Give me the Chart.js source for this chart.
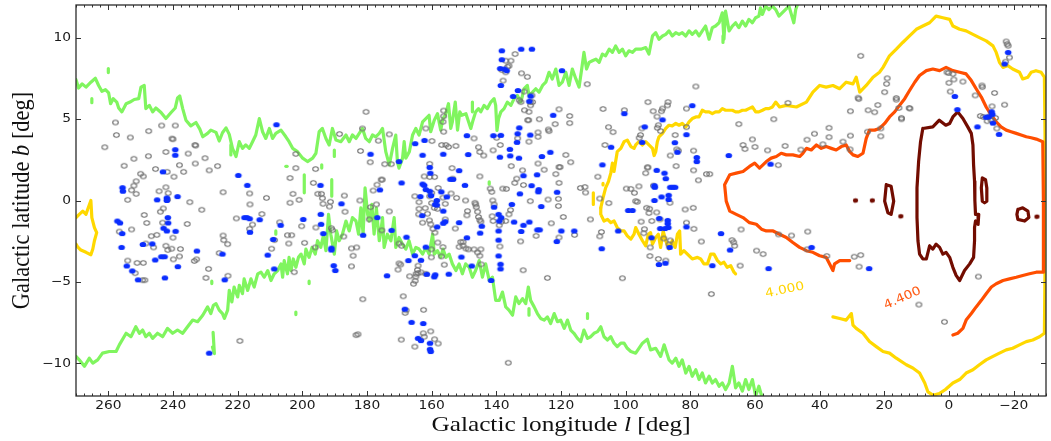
<!DOCTYPE html>
<html>
<head>
<meta charset="utf-8">
<title>Galactic plane map</title>
<script src="https://cdn.jsdelivr.net/npm/chart.js@4.4.1/dist/chart.umd.min.js"></script>
<style>
  html, body { margin: 0; padding: 0; background: #fff; }
  canvas { display: block; }
</style>
</head>
<body>
<canvas id="mapa" width="1051" height="441"></canvas>
<script>
// =======================
// AXES
// =======================
const lTicks = [260, 240, 220, 200, 180, 160, 140, 120, 100, 80, 60, 40, 20, 0, -20];
const bTicks = [-10, -5, 0, 5, 10];
const lRange = [-30, 270];
const bRange = [-12, 12];
const lMinorStep = 2.5;

// =======================
// OBJECTS  [l, b]
// =======================
const grayObjs = [
  [257.8,4.79],[257.5,4.02],[253.2,3.87],[247.5,4.26],[243.5,4.6],[239.3,4.6],[240.3,3.8],[240.0,3.76],[261.1,3.27],[242.2,2.98],
  [235.3,2.88],[233.2,3.41],[233.0,3.37],[230.1,2.6],[255.1,2.13],[252.1,2.56],[247.6,2.72],[245.4,1.93],[241.8,1.76],[239.7,1.46],
  [238.0,2.17],[236.7,1.76],[233.1,2.27],[228.8,1.85],[250.0,1.64],[249.2,1.48],[251.4,1.18],[252.1,0.91],[252.8,0.63],[251.4,0.41],
  [254.0,0.04],[242.2,0.81],[244.3,0.57],[241.5,0.45],[241.7,0.06],[234.8,-0.1],[231.1,-0.57],[243.0,-0.49],[243.9,-0.69],[248.9,-0.89],
  [248.1,-1.38],[243.2,-1.36],[235.6,-1.44],[256.6,-1.91],[252.8,-1.78],[246.7,-2.19],[245.0,-2.11],[248.4,-2.64],[246.0,-2.88],[240.0,-2.28],
  [242.2,-2.78],[240.4,-2.96],[241.6,-3.04],[237.7,-2.98],[238.0,-3.43],[239.9,-3.61],[254.0,-3.69],[251.1,-3.83],[249.2,-3.83],[233.4,-3.71],
  [232.7,-3.61],[251.7,-4.46],[249.4,-4.89],[248.7,-4.89],[229.0,-4.2],[229.8,-4.75],
  [226.2,2.11],[224.5,0.51],[216.3,0.43],[216.2,-0.24],[211.1,0.16],[212.5,-0.83],[220.4,-1.1],[215.4,-1.48],[216.3,-1.74],[224.5,-2.15],
  [224.3,-2.43],[223.1,-2.68],[225.7,-3.23],[223.0,-4.62],[219.3,-8.62],[202.0,2.86],[202.0,1.99],[203.8,1.38],[202.9,0.41],[201.0,0.04],
  [203.8,-0.14],[207.0,-1.34],[204.6,-2.13],[203.3,-2.13],[204.2,-2.64],[208.6,-2.43],[209.5,-2.96],[200.2,-1.58],[199.3,-2.6],[202.5,-4.4],
  [195.9,1.93],[196.6,1.08],[195.2,0.41],[194.1,0.41],[193.8,0.14],[193.6,-0.2],[191.3,-0.08],[191.6,-0.37],[187.0,0.3],[186.8,-0.69],
  [195.8,-1.66],[191.0,-1.7],[190.7,-1.82],[196.0,-2.88],[187.2,-2.21],[184.8,-2.94],[184.3,-3.39],[184.8,-4.04],[188.5,4.08],[183.4,-8.26],
  [180.3,5.44],[181.4,4.42],[182.0,3.04],[179.0,2.35],[176.5,3.67],[173.1,4.06],[174.5,2.23],[172.5,2.23],[175.6,1.28],[175.3,1.28],
  [176.9,0.97],[178.1,0.61],[182.2,0.0],[177.1,-0.24],[178.9,-0.41],[173.1,-0.67],[179.3,-1.16],[175.4,-1.83],[183.2,-2.88],[169.6,-3.93],
  [170.4,-4.24],[168.8,-5.88],[181.3,-6.06],[182.8,-8.21],[168.2,-6.9],[167.9,-6.74],[162.5,-6.71],[169.4,-8.54],[165.2,-8.97],[162.6,-8.15],
  [162.3,-8.36],[160.3,-8.03],[159.1,-8.52],[158.0,-8.78],[166.8,-4.65],[164.9,-4.67],[164.2,-4.46],[165.1,-4.93],[165.6,-5.11],[164.4,-4.26],
  [156.3,5.52],[156.3,5.17],[156.5,4.83],[161.8,4.42],[159.9,3.65],[156.9,3.41],[155.6,3.41],[154.8,3.29],[152.5,3.35],[156.3,4.22],
  [160.6,2.25],[162.3,1.48],[160.6,1.44],[159.1,1.44],[158.0,0.77],[160.6,0.26],[160.0,0.47],[165.2,0.26],[163.9,-0.1],[163.9,-0.51],
  [164.0,-0.85],[162.0,-0.47],[161.3,-0.81],[160.0,-0.16],[159.2,-0.45],[158.2,-0.51],[160.7,-1.22],[160.3,-1.46],[162.8,-1.36],[159.6,-1.74],
  [159.0,-1.97],[156.5,0.18],[155.8,-0.2],[153.7,1.99],[153.5,1.34],[154.0,0.43],[152.3,0.16],[155.8,-1.16],[152.7,-1.72],[149.5,0.0],
  [146.6,-0.14],[146.4,-0.24],[146.2,-0.41],[149.1,-0.91],[148.9,-0.65],[145.8,-0.69],[145.5,-1.01],[145.1,-1.2],[144.8,-1.3],[145.1,1.48],
  [145.1,2.98],[143.9,2.76],[146.9,3.81],[145.5,3.27],[141.0,3.08],[141.9,0.73],[141.4,0.53],[141.1,0.0],[140.7,-0.24],[141.3,-0.97],
  [141.0,-1.26],[151.0,-2.54],[150.3,-2.54],[149.4,-2.95],[148.6,-3.0],[146.9,-3.0],[145.8,-3.19],[145.1,-3.39],[144.8,-3.0],[150.3,-2.78],
  [151.5,-2.84],[144.7,-3.92],[170.1,-2.64],[169.3,-2.78],[170.1,-3.86],[160.1,-3.0],[157.0,-3.43],[156.1,-3.94],[163.3,-4.41],[161.8,-4.5],
  [164.2,-4.0],[164.8,-4.5],[156.5,-2.86],[160.1,-3.49],[158.1,-2.58],
  [137.1,8.58],[136.1,8.27],[135.5,8.58],[134.2,8.99],[138.3,8.01],[137.1,7.87],[136.5,8.21],[137.9,7.36],[132.2,7.81],[130.4,7.59],
  [131.4,6.69],[129.0,6.45],[129.5,6.04],[129.4,5.84],[128.8,6.04],[131.3,5.54],[129.9,5.44],[132.4,6.04],[132.9,6.15],[130.3,4.93],
  [130.0,4.93],[126.7,4.99],[121.8,4.69],[120.6,5.6],[117.3,5.19],[117.3,4.75],[123.9,4.36],[123.7,4.26],[127.1,4.18],[127.1,3.91],
  [129.9,3.61],[133.4,3.81],[138.8,3.41],[139.9,3.85],[118.5,2.8],[117.0,2.35],[127.1,2.27],[125.2,1.89],[120.6,2.05],[120.3,2.05],
  [121.6,1.62],[135.4,2.11],[131.9,1.85],[133.7,1.34],[134.3,1.08],[131.6,0.95],[138.0,0.73],[136.9,0.71],[120.6,1.08],[129.5,-0.04],
  [124.0,0.06],[120.8,0.1],[120.8,-0.34],[135.6,-0.59],[136.1,-0.85],[137.1,-1.26],[139.1,-1.52],[138.4,-1.3],[123.0,-1.4],[119.3,-1.01],
  [127.7,-2.17],[120.6,-2.27],[115.8,-2.11],[132.5,-2.51],[138.9,-2.82],[131.7,-4.28],[124.2,-4.75],[136.3,-9.96],[112.6,0.83],[114.0,0.77],
  [112.4,0.49],[111.9,7.14],[107.0,5.62],[105.3,4.5],[103.9,4.2],[106.4,3.41],[108.6,1.46],[108.0,0.12],[105.2,-0.16],[110.9,-1.16],
  [108.0,-2.2],[107.5,-1.93],[101.0,-4.77],[100.4,5.54],[99.8,0.73],[98.4,0.71],[97.3,0.47],[96.9,-0.04],
  [78.3,7.0],[93.1,6.04],[86.9,6.04],[87.1,5.84],[88.6,5.64],[88.9,5.48],[91.5,5.48],[90.3,5.15],[89.9,4.62],[90.2,4.46],
  [81.2,5.64],[81.2,4.5],[95.0,4.42],[95.4,4.02],[95.8,3.85],[89.2,4.26],[84.7,4.02],[84.2,3.14],[83.7,3.06],[79.0,3.06],
  [86.2,2.76],[93.3,2.03],[93.8,1.68],[93.1,2.03],[84.4,2.11],[79.0,1.85],[77.5,1.24],[75.0,1.62],[74.0,1.62],[95.9,0.87],
  [91.4,0.91],[86.3,-0.14],[96.4,-0.08],[93.5,-0.45],[92.6,-0.51],[90.4,-0.73],[92.8,-0.77],[91.9,-1.26],[95.2,-1.3],[89.4,-1.16],
  [81.2,-1.36],[78.9,-1.74],[81.6,-0.55],[79.1,-0.45],[94.2,-1.76],[94.4,-2.01],[88.2,-2.33],[86.2,-2.45],[86.6,-2.7],[76.6,-2.52],
  [92.4,-2.88],[89.9,-3.59],[92.5,-3.41],[87.6,-3.69],[73.5,-5.74],[65.0,4.69],[63.7,3.41],[63.1,3.16],[60.0,3.29],[60.8,3.75],
  [56.1,3.08],[54.2,4.99],[64.3,-1.78],[67.1,-2.43],[66.6,-2.56],[66.3,-2.78],[59.5,-3.08],[57.5,-3.29],[64.6,-4.0],
  [27.3,8.88],[49.8,5.99],[50.7,3.35],[52.8,2.17],[45.8,3.12],[43.9,3.73],[41.6,4.1],[37.1,4.46],[37.1,3.89],[39.0,3.45],
  [32.8,3.61],[30.5,3.98],[30.6,3.14],[30.5,5.48],[28.1,6.31],[27.9,6.23],[25.0,5.54],[23.0,5.42],[22.0,5.86],[21.1,4.42],
  [21.1,3.94],[25.2,4.22],[19.9,6.65],[19.3,7.16],[19.1,7.5],[16.3,6.29],[16.3,6.19],[15.5,5.68],[14.7,5.07],[14.7,4.99],
  [12.3,5.68],[52.7,-2.08],[48.7,-2.15],[43.7,-1.91],[43.9,-3.0],[37.8,-3.41],[29.3,-3.45],[27.3,-3.35],[27.8,-4.06],
  [12.1,5.64],[0.6,7.87],[0.1,7.83],[-1.2,7.77],[-1.5,7.43],[0.0,7.22],[-4.3,7.3],[-0.4,6.69],[-10.2,7.06],[-10.3,6.96],
  [-8.1,6.45],[-14.1,6.6],[-17.2,5.88],[-13.3,5.78],[-10.6,5.13],[-12.3,5.15],[-13.0,4.95],[-14.4,5.07],[-14.8,4.42],[-9.7,5.19],
  [-11.8,4.87],[-17.7,9.76],[-18.0,9.6],[-18.3,9.5],[-18.7,8.78],[-17.5,8.52],[-9.1,-4.67],[9.3,-6.39],[1.4,-7.45]
];

const blueObjs = [
  [239.3,3.12],[239.3,2.78],[243.1,1.76],[255.6,0.79],[255.5,0.57],[244.9,0.04],[241.9,0.16],[241.9,0.0],[238.6,0.24],[257.2,-1.26],
  [256.4,-1.38],[255.7,-2.03],[241.6,-1.05],[241.5,-1.38],[242.9,-1.7],[241.9,-1.87],[239.2,-1.89],[255.9,-2.88],[249.3,-2.7],[246.4,-2.66],
  [243.6,-3.45],[242.6,-3.45],[245.5,-3.65],[238.5,-4.06],[232.6,-3.1],[254.3,-4.02],[252.6,-4.32],[250.8,-4.87],[242.5,-4.75],[228.8,-9.37],
  [208.0,4.65],[219.8,1.54],[217.0,0.93],[217.9,-1.05],[217.1,-1.05],[216.3,-1.12],[213.2,-1.18],[216.2,-1.95],[206.7,-1.52],[209.0,-2.39],
  [210.7,-3.35],[208.7,-4.2],[199.7,-1.16],[194.4,0.93],[194.3,-0.85],[194.2,-1.46],[193.5,-2.03],[191.0,-2.92],[191.0,-3.04],[187.9,-0.2],
  [190.3,-4.0],[189.8,-4.3],[224.7,-3.29],[224.0,-4.87],
  [178.9,2.84],[176.0,0.65],[170.1,2.39],[169.3,1.08],[165.1,3.49],[162.2,3.69],[162.8,2.78],[160.6,2.03],[160.4,1.68],[162.8,1.01],
  [162.3,0.93],[161.8,0.67],[160.6,0.57],[160.2,0.3],[163.5,0.24],[158.4,0.0],[158.9,-0.24],[157.0,0.53],[155.3,0.22],[156.4,-0.65],
  [156.4,2.84],[154.2,1.3],[153.4,1.3],[151.5,1.83],[149.7,0.93],[148.7,2.82],[149.1,3.98],[140.9,3.98],[162.9,-0.93],[155.8,-1.3],
  [156.4,-1.4],[158.3,-1.62],[151.5,-1.36],[144.5,-1.58],[145.0,-2.0],[149.1,-2.29],[140.7,-0.41],[172.4,-1.83],[167.8,-2.25],[176.8,-1.05],
  [181.2,-2.13],[161.8,-2.86],[163.3,-3.67],[167.2,-3.69],[165.2,-3.39],[173.8,-4.62],[161.5,-4.53],[159.2,-4.69],[158.9,-4.56],[154.7,-4.52],
  [150.8,-3.47],[147.6,-4.02],[141.6,-4.91],[168.3,-6.67],[166.2,-7.48],[162.6,-7.55],[164.2,-8.46],[163.3,-8.6],[160.5,-8.76],[160.5,-9.13],
  [160.3,-9.27],[158.4,-0.28],
  [138.3,9.19],[132.3,9.29],[129.0,9.29],[138.3,8.64],[138.8,8.1],[137.5,8.07],[136.8,7.97],[138.6,7.06],[133.3,6.75],[134.8,6.39],
  [129.4,6.41],[129.8,6.09],[119.7,7.97],[100.4,5.33],[122.4,5.23],[132.9,4.46],[133.4,4.1],[129.5,4.02],[138.6,4.0],[133.6,3.57],
  [135.8,3.14],[135.7,2.74],[133.0,2.6],[138.9,2.66],[125.9,2.7],[123.3,2.96],[131.6,1.52],[127.4,1.58],[129.1,0.91],[126.9,0.67],
  [127.0,0.53],[121.2,0.51],[132.7,0.41],[126.1,-0.37],[135.2,-0.24],[139.3,-0.85],[138.5,-1.05],[139.1,-1.26],[134.5,-1.32],[131.6,-1.52],
  [129.8,-1.32],[132.3,-1.9],[127.3,-1.8],[126.6,-1.8],[119.9,-1.87],[115.9,-1.87],[121.3,-2.52],[139.3,-1.87],[139.3,-2.43],[139.3,-3.4],
  [138.7,-3.91],[138.7,-4.2],[107.2,2.19],[104.5,3.27],[107.4,-2.96],[102.3,-1.87],[99.2,-0.61],[97.9,-0.61],
  [79.4,5.82],[88.6,4.95],[94.1,4.52],[81.2,4.04],[84.8,3.55],[84.0,2.96],[78.0,2.64],[78.0,2.39],[94.9,3.57],[90.4,1.85],
  [88.0,1.68],[87.6,1.34],[91.1,0.91],[91.0,0.81],[86.2,0.81],[85.4,0.81],[84.7,0.81],[88.9,0.22],[86.7,0.32],[86.7,0.06],
  [91.1,0.0],[89.6,-1.1],[87.0,-1.22],[87.0,-1.42],[86.8,-1.66],[89.3,-1.72],[87.8,-1.72],[81.2,-1.62],[92.0,-2.29],[86.4,-2.88],
  [89.7,-3.93],[87.7,-3.85],[68.1,2.76],[70.5,-2.03],[67.7,-3.04],[73.2,-4.0],[55.8,-4.18],[55.2,2.23],
  [42.5,-2.88],[24.7,-4.18],
  [-1.8,6.39],[-2.6,5.58],[-8.8,4.52],[-12.3,5.13],[-13.2,5.45],[-13.4,5.29],[-11.5,5.11],[-13.6,4.75],[-15.5,4.06],[-18.3,9.09],
  [-17.2,8.38]
];

// =======================
// CONTOURS  [l, b]
// =======================
const greenUpper = [
  [270,7.42],[269.2,6.9],[268.1,7.16],[266.9,6.96],[265.4,7.26],[264,7.5],[263,7.06],[262,6.7],[260.9,6.8],[259.9,6.6],
  [259.3,5.94],[258.5,6.25],[257.4,6.04],[256.8,5.68],[255.8,5.44],[254.5,5.94],[253.3,6.04],[252,6.2],[250.6,6.25],[249.9,6.96],
  [248.9,7.06],[248.4,5.64],[247.3,5.84],[246.3,5.44],[245.3,5.68],[243.7,5.4],[242.2,5.03],[240.6,5.4],[239.3,5.68],[238.6,6.29],
  [237.9,6.41],[237,5.64],[236,4.93],[234.5,4.58],[232.9,4.79],[231.7,4.38],[230.8,3.91],[229.3,4.12],[228.3,4.32],[226.7,4.18],
  [225.7,3.65],[224.7,4.16],[223.6,4.46],[222.6,4.06],[221.6,3.2],[220.5,2.7],[219.5,3.61],[218.5,3.2],[217.5,3.41],[216.4,3.2],
  [215.4,3.61],[214.4,4.02],[213.3,5.03],[212.3,4.22],[211.3,3.81],[210.2,4.42],[209.2,3.81],[208.2,4.12],[206.6,4.32],[205.1,3.91],
  [204.1,3.61],[203,3.2],[201.5,3.0],[199.9,2.6],[198.4,2.39],[196.8,2.6],[195.8,2.9],[194.8,4.22],[193.8,4.42],[192.7,3.81],
  [191.7,3.41],[190.7,4.42],[189.6,3.71],[188.1,3.61],[186.5,4.02],[185.5,3.61],[184.5,4.02],[183.4,3.81],
  [182.4,4.12],[181.4,4.42],[180.4,3.81],[179.3,3.61],[178.3,4.02],[177.3,3.91],[176.2,4.12],[175.2,4.42],[174.2,3.0],[173.1,2.19],
  [172.1,3.2],[171.1,4.02],[170.6,2.39],[170.1,1.99],[169,2.6],[168.5,3.61],[168,2.6],[166.9,3.0],[165.9,4.02],[164.9,4.42],
  [163.9,4.02],[162.8,4.83],[161.8,5.03],[160.8,5.23],[160.3,4.22],[159.2,4.93],[158.2,5.33],[157.2,4.32],[156.5,5.03],[155.8,5.23],
  [154.8,5.94],[154.1,4.42],[153.6,4.83],[152.7,6.04],[152,4.32],[151.3,5.44],[150.7,5.23],[149.4,5.33],[147.9,4.42],[147.2,4.93],
  [146.4,5.44],[145.5,5.64],[144.8,5.44],[143.8,5.84],[142.8,5.64],[141.7,6.04],[140.7,6.25],[140.2,5.84],
  [139.8,4.3],[139.3,5.03],[138.6,5.44],[137.6,5.64],[136.6,6.04],[135.5,5.84],[134.5,6.25],[133.5,6.45],[132.4,6.04],[131.4,6.86],
  [130.4,7.06],[129.9,6.45],[128.8,6.65],[127.8,6.86],[126.8,6.65],[125.7,7.06],[124.7,7.26],[123.7,7.87],[122.7,7.46],[121.6,8.07],
  [120.6,7.06],[119.6,7.26],[118.5,7.87],[117.5,7.06],[116.5,8.07],[115.4,7.46],[114.4,6.96],[113.6,8.07],[112.9,9.09],[112.1,8.07],
  [111.3,8.48],[110.3,8.58],[109.2,8.68],[108.2,8.48],[107.2,8.99],[106.2,8.88],[105.1,9.29],[104.1,9.09],[103.1,9.49],[102,9.09],
  [101,9.29],[100,8.88],[99,9.19],[97.9,9.09],[96.9,9.29],
  [95.3,9.29],[93.8,9.39],[92.8,8.99],[91.7,10.1],[90.7,10.3],[89.7,9.9],[88.6,10.1],[87.6,10.2],[86.6,10.41],[85.6,10.1],
  [84.5,10.3],[83.5,10.2],[82.5,10.3],[81.4,10.1],[80.4,10.41],[79.4,10.2],[78.3,10.41],[77.3,10.1],[76.3,10.41],[75.3,10.71],
  [74.2,9.9],[73.2,10.61],[72.2,10.71],[71.1,10.91],[70.1,11.52],[69.6,9.9],[69.1,11.62],[68,10.41],[67,10.71],[66,10.91],
  [65,10.61],[63.9,11.01],[62.9,10.71],[61.9,11.12],[60.8,10.91],[59.8,11.22],[58.8,11.32],[58.3,11.83],[57.7,11.42],[56.7,11.93],
  [55.7,11.72],[54.6,11.93],[53.6,11.72],[52.6,11.32],[51.6,11.52],[49.5,11.93],[48,10.91],[47.4,11.72],[46.4,12.3]
];

const greenLower = [
  [270,-9.57],[269,-9.78],[267.4,-10.18],[265.9,-9.68],[264.8,-9.98],[263.3,-9.78],[261.8,-9.37],[259.7,-9.27],[257.6,-9.27],[256.6,-8.86],
  [254.5,-8.15],[253,-8.36],[251.5,-7.75],[250.4,-8.15],[249.4,-7.95],[248.4,-8.36],[247.3,-8.15],[246.3,-8.46],[244.8,-8.15],[243.2,-8.36],
  [241.7,-7.85],[240.1,-8.15],[238.6,-7.95],[237,-8.15],[235.5,-7.75],[233.9,-7.34],[232.4,-7.44],[230.8,-7.04],[229.3,-6.53],[228.3,-6.94],
  [227.5,-6.43],[226.7,-6.33],
  [225.7,-6.73],[224.7,-6.94],[224.1,-7.24],[223.1,-6.73],[222.6,-5.52],[221.8,-6.23],[221.1,-5.31],[220,-5.92],[219.5,-5.21],[218.5,-5.72],
  [218,-4.81],[216.9,-5.52],[215.9,-4.81],[214.9,-5.31],[213.8,-4.5],[212.8,-4.4],[211.8,-4.71],[210.7,-4.3],[209.7,-4.91],[208.7,-4.5],
  [207.6,-4.3],[206.6,-3.89],[206.1,-4.71],[205.6,-3.69],[204.6,-4.5],[204.1,-3.49],[203.5,-4.3],[202.8,-3.59],[202,-4.1],[201.2,-3.49],
  [200.4,-3.29],[199.4,-3.89],[198.9,-2.98],[197.9,-3.49],[197,-2.88],[196,-3.29],[195.3,-2.47],[194.3,-2.88],[193.5,-2.17],[192.7,-3.08],
  [191.9,-0.85],[191.2,-2.07],[190.1,-3.29],[189.4,-1.87],[188.6,-2.47],[187.6,-2.07],[186.5,-1.26],[185.5,-1.87],[184.5,-1.05],[183.4,-1.26],
  [182.6,-2.07],[181.9,-0.45],[181.2,-2.07],[180.6,0.77],[179.8,-0.85],[179.3,-1.26],[178.5,-0.24],[177.8,-2.07],[177.1,-0.45],[176.2,-2.47],
  [175.7,-1.87],[175.2,-1.05],[174.7,-2.88],[173.7,-2.07],[172.6,-2.47],[171.6,-1.05],[171.1,-2.88],[170.1,-2.27],[169,-2.68],[168,-2.98],
  [167,-2.47],[165.9,-3.29],[164.9,-2.88],[163.9,-2.98],[162.8,-3.29],[161.8,-2.88],[160.8,-3.29],[159.7,-2.07],[159.2,-3.29],[158.2,-3.08],
  [157.2,-3.49],[156.5,-2.98],[155.6,-3.49],[154.6,-3.29],[153.6,-3.89],[152.5,-4.3],[151.5,-3.89],[150.5,-4.5],[149.5,-3.89],[148.4,-4.1],
  [147.4,-4.71],[146.4,-4.3],[145.3,-3.69],[144.3,-4.71],[143.3,-3.89],[142.2,-4.91],[141.2,-4.71],[140.2,-6.13],
  [139.1,-6.13],[138.1,-5.62],[137.1,-6.53],[136.1,-6.73],[135,-7.04],[134,-5.92],[133,-6.33],[131.9,-6.02],[130.9,-6.33],[130.1,-5.31],
  [129.4,-6.13],[128.3,-6.53],[127.3,-6.94],[126.3,-7.24],[125.2,-7.34],[124.2,-7.14],[123.2,-7.55],[122.1,-6.94],[121.1,-7.44],[120.1,-7.34],
  [119,-7.85],[118,-7.34],[117,-7.95],[116,-8.15],[114.9,-8.46],[113.9,-8.66],[112.9,-7.95],[111.8,-8.46],[110.8,-8.36],[109.8,-8.15],
  [108.7,-8.05],[107.7,-7.75],[106.7,-8.36],[105.6,-8.56],[104.6,-8.36],[103.6,-8.76],[102.6,-8.97],[101.5,-8.76],[100.5,-8.76],[99.5,-9.07],
  [98.4,-9.27],[96.9,-9.37],
  [94.8,-8.76],[93.3,-8.52],[92.3,-9.17],[90.7,-9.07],[89.2,-9.57],[88.1,-8.86],[86.6,-9.78],[85.6,-9.98],[84.5,-9.68],[83.5,-10.18],
  [82.5,-9.78],[81.4,-10.59],[80.4,-10.18],[79.4,-10.79],[78.3,-10.39],[77.3,-10.99],[76.3,-10.59],[75.3,-11.2],[74.2,-10.79],[73.2,-11.2],
  [72.2,-10.99],[71.1,-11.4],[70.1,-11.2],[69.1,-11.6],[68,-11.2],[67,-10.18],[66,-11.5],[65,-11.2],[63.9,-11.7],[62.9,-10.99],
  [61.9,-11.6],[60.8,-10.99],[59.8,-12.0],[58.8,-11.4],[57.5,-12.3]
];

// short broken pieces of the same level
const greenBits = [
  [[260,8.1],[260,7.85]],
  [[265.1,6.25],[265.1,6.0]],
  [[222.1,3.41],[222.1,2.8]],
  [[205.1,2.1],[204.7,2.1]],
  [[199.4,1.58],[199.4,0.47]],
  [[194.0,2.19],[194.0,1.99]],
  [[190.9,1.28],[190.9,0.26]],
  [[190.1,3.1],[190.1,2.7]],
  [[208.2,-1.87],[208.2,-2.07]],
  [[197.9,-4.95],[197.9,-5.1]],
  [[202,-6.85],[202,-7.0]],
  [[227.6,-8.1],[227.2,-9.4],[227.8,-9.0]],
  [[228.0,-4.95],[228.0,-5.1]],
  [[147.4,6.04],[147.4,5.44]],
  [[142.2,1.15],[142.2,1.0]],
  [[129.9,-6.63],[129.9,-7.04]],
  [[111.8,-6.94],[111.8,-7.24]],
  [[69.9,10.1],[69.9,9.7]]
];

const yellowLeft = [
  [270,-1.05],[269,-0.85],[267.9,-0.65],[266.9,-0.85],[266.4,-0.55],[265.4,0],[265.1,-1.05],[264.3,-1.66],[263.6,-1.97],[264.3,-2.47],
  [264.8,-2.98],[265.4,-3.33],[266.9,-3.18],[268.5,-3.04],[269.5,-2.84],[270,-2.68]
];

const yellowLower = [
  [107.7,-0.45],[107.7,-0.85],[106.7,-1.26],[105.6,-1.16],[104.6,-1.36],[103.6,-1.26],[102.6,-1.66],[101.5,-1.87],[100.5,-1.87],[99.5,-2.17],
  [98.4,-2.37],[97.4,-2.07],[96.9,-1.66],[95.9,-2.07],[94.8,-2.47],[93.8,-2.78],[93,-2.07],[92.3,-1.97],[91.7,-2.68],[90.7,-2.27],
  [89.9,-2.07],[89.2,-2.88],[88.4,-1.87],[87.6,-2.47],[86.6,-2.98],[85.6,-2.47],[84.7,-2.88],[84,-2.07],[83.3,-1.87],[83,-3.29],
  [82,-3.08],[80.9,-3.29],[79.4,-3.59],[77.8,-3.49],[76.8,-3.59],[75.8,-3.89],[74.7,-3.89],[73.7,-3.29],[72.7,-3.29],[71.6,-3.69],
  [70.6,-3.89],[69.6,-3.79],[68.6,-4.1],[67.5,-4.0],[66.5,-4.4],[66,-4.5]
];

const yellowMain = [
  [107.7,-0.45],[107,0.16],[106.2,0.77],[105.3,1.18],[104.6,1.68],[104.1,2.29],[103.6,1.78],[103.1,2.39],[102.6,3.0],[101.5,3.2],
  [100.5,3.61],[99.5,3.71],[98.4,3.31],[97.4,3.2],[96.9,3.41],[95.9,3.61],[94.8,3.41],[93.8,3.61],[92.8,3.41],[91.7,3.2],
  [91.2,2.76],[90.7,3.0],[90.2,3.61],[89.7,3.91],[88.6,4.12],[87.6,4.42],[86.6,4.62],[85.6,4.58],[84.5,4.73],[83.5,4.62],
  [82.5,4.73],[81.4,4.52],[80.4,4.83],[79.4,5.03],[78.3,5.13],[77.3,5.13],[76.3,5.54],[75.3,5.44],[74.2,5.44],[73.2,5.33],
  [72.2,5.44],[71.1,5.44],[70.1,5.64],[69.1,5.54],[68,5.54],[67,5.54],[66,5.44],[65,5.44],[63.9,5.54],[62.9,5.54],
  [61.9,5.64],[60.8,5.74],[59.8,5.44],[58.8,5.44],[57.7,5.54],[56.7,5.64],[55.7,5.64],[54.6,5.74],[53.6,6.04],[52.4,5.74],
  [50.3,5.84],[47.2,5.74],[44.1,6.04],[42.1,6.65],[40,7.06],[38,6.96],[35.9,7.06],[33.8,6.86],[31.8,7.26],[29.7,7.16],
  [28.7,7.57],[27.6,6.65],[25.6,7.06],[23.5,7.57],[21.5,7.87],[20.4,8.17],[18.4,8.88],[16.3,9.29],[14.3,9.7],[12.2,10.1],
  [10.1,10.51],[8.1,10.71],[6,10.91],[4,11.32],[1.9,11.22],[-0.2,11.12],[-1.2,10.71],[-3.3,10.51],[-5.3,10.41],[-7.4,10.2],
  [-9.4,10],[-11.5,9.8],[-13.6,9.49],[-14.6,9.09],[-15.6,8.48],[-16.7,8.17],[-18.2,8.28],[-19.7,8.07],[-21.8,7.87],[-22.8,7.46],
  [-24.4,7.57],[-25.4,7.87],[-26.9,7.97],[-28.5,7.87],[-29.5,7.57],[-29.7,4.0],[-29.7,-4.1],[-29.5,-8.15],[-28,-8.36],[-25.9,-8.56],
  [-23.9,-8.66],[-21.8,-8.86],[-19.7,-9.07],[-17.7,-9.17],[-15.6,-9.37],[-13.6,-9.57],[-11.5,-9.78],[-9.4,-10.08],[-7.4,-10.39],[-5.3,-10.59],
  [-3.3,-10.99],[-1.2,-11.2],[1.1,-11.6],[3,-11.85],[5,-11.95],[6.5,-11.75],[7.5,-11.2],[9.1,-10.59],[11.2,-10.28],[13.2,-10.08],
  [16.3,-9.68],[18.4,-9.37],[20.4,-9.27],[22.5,-8.97],[24.6,-8.66],[26.6,-8.15],[28.7,-7.85],[29.7,-7.65],[30.2,-6.94],[31.8,-7.34],
  [33.8,-7.24],[35.9,-7.14]
];

const yellowBits = [
  [[110.0,0.47],[110.0,-0.24]],
  [[107.0,1.05],[107.0,0.95]]
];

const orangeMain = [
  [30.7,-3.69],[31.8,-3.69],[33.8,-3.69],[35.4,-3.89],[35.9,-4.3],[36.4,-4.1],[38,-3.49],[40,-3.39],[42.1,-3.18],[44.1,-3.08],
  [46.2,-2.88],[48.3,-2.58],[50.3,-2.27],[52.4,-2.07],[54.4,-1.87],[56.5,-1.87],[58,-1.76],[59.6,-1.46],[61.7,-1.36],[63.7,-1.05],
  [65.8,-0.85],[67.8,-0.65],[68.9,-0.04],[69.4,0.97],[67.8,1.58],[65.8,1.68],[63.7,1.78],[61.7,2.09],[60.1,2.29],[58.6,1.99],
  [56.5,2.39],[55,2.6],[53.4,2.7],[51.9,2.9],[50.3,2.8],[48.3,2.8],[46.2,2.7],[45.2,2.9],[44.1,3.2],[42.6,3.1],
  [41,3.41],[39.5,3.2],[38,3.31],[36.4,3.2],[34.9,3.1],[33.3,3.31],[31.8,3.41],[30.7,3.0],[29.7,2.8],[28.2,2.7],
  [26.6,2.9],[25.6,3.81],[24.6,4.32],[23,4.32],[21.5,4.42],[19.9,4.73],[18.4,5.13],[16.8,5.44],[15.3,5.84],[13.7,6.25],
  [12.2,6.75],[10.6,7.26],[9.1,7.67],[7,7.97],[5,8.07],[2.9,7.97],[0.9,8.17],[-1.2,7.97],[-3.3,7.87],[-5.3,7.77],
  [-6.9,7.36],[-8.4,6.86],[-10,6.35],[-11.5,5.74],[-13.1,5.23],[-14.6,4.83],[-16.1,4.52],[-17.7,4.32],[-19.2,4.22],[-20.8,4.12],
  [-22.3,4.02],[-23.9,3.91],[-25.4,3.85],[-27,3.77],[-29,3.61],[-29.2,-0.04],[-29.2,-4.4],[-27,-4.4],[-24.9,-4.5],[-22.8,-4.6],
  [-20.8,-4.71],[-18.7,-4.81],[-16.7,-4.91],[-14.6,-5.11],[-13.1,-5.31],[-11.5,-5.72],[-10,-6.13],[-8.4,-6.53],[-6.9,-6.94],[-5.3,-7.34],
  [-4.3,-7.85],[-2.7,-8.15],[-1.2,-8.26]
];

const darkMain = [
  [8.1,4.42],[5,4.52],[3,4.93],[1,4.62],[-0.2,4.73],[-1.2,5.13],[-2.7,5.44],[-4.3,5.03],[-5.8,4.52],[-6.9,4.12],
  [-7.4,3.41],[-7.6,2.19],[-7.9,1.18],[-8.0,0.0],[-8.2,-0.85],[-9.2,-0.85],[-9.0,-1.46],[-8.2,-1.26],[-7.9,-1.66],[-7.9,-2.47],
  [-7.6,-3.49],[-6.4,-3.89],[-4.8,-4.3],[-3.3,-4.91],[-2.2,-4.6],[-1.2,-4.1],[-0.2,-3.49],[0.9,-3.18],[1.9,-3.29],[2.9,-2.88],
  [4,-2.68],[5,-2.98],[6,-2.78],[7,-3.59],[8.1,-3.59],[9.1,-3.29],[9.6,-2.47],[9.9,-1.05],[9.9,0.77],[9.4,2.39],
  [8.8,3.61],[8.1,4.42]
];
const darkLoops = [
  [[-10.3,1.38],[-11.3,1.28],[-11.7,0.77],[-11.7,-0.04],[-11,-0.14],[-10.3,-0.04],[-10,0.77],[-10.3,1.38]],
  [[19.4,0.97],[17.9,0.87],[17.1,-0.04],[17.9,-0.85],[18.9,-0.75],[19.9,-0.04],[19.4,0.97]],
  [[-21.3,-0.55],[-22.8,-0.45],[-24.4,-0.65],[-24.7,-1.05],[-23.4,-1.26],[-21.3,-1.16],[-21,-0.85],[-21.3,-0.55]]
];
const darkDots = [[28.9,0],[23.7,0],[14.9,-0.97],[-27.2,-0.99]];

// level tags written inline on the contours
const levelTags = [
  { text: '4.000', l: 50.8, b: -5.5, angle: -12, color: '#ffd400' },
  { text: '4.400', l: 14.4, b: -6.0, angle: -24, color: '#ff5a14' }
];

// =======================
// COLOURS / LOOK
// =======================
const C_GREEN = '#80f55f';
const C_YELLOW = '#ffd800';
const C_ORANGE = '#ff4e00';
const C_DARK = '#720c00';
const C_GRAY = '#6f6f6f';
const C_BLUE = '#0a2dff';
const STRETCH = 1.15;   // everything in this figure is a bit wider than tall

// =======================
// HELPERS
// =======================
const toXY = pts => pts.map(([l, b]) => ({ x: l, y: b }));

// small elliptical marker used as pointStyle
function marker(rx, ry, fill, stroke) {
  const c = document.createElement('canvas');
  c.width = Math.ceil(rx * 2 + 3);
  c.height = Math.ceil(ry * 2 + 3);
  const g = c.getContext('2d');
  g.beginPath();
  g.ellipse(c.width / 2, c.height / 2, rx, ry, 0, 0, Math.PI * 2);
  if (fill) { g.fillStyle = fill; g.fill(); }
  if (stroke) { g.strokeStyle = stroke; g.lineWidth = 1.1; g.stroke(); }
  return c;
}

function curve(pts, color, order) {
  return {
    data: toXY(pts),
    showLine: true,
    borderColor: color,
    borderWidth: 3.2,
    borderJoinStyle: 'round',
    borderCapStyle: 'round',
    pointRadius: 0,
    pointHoverRadius: 0,
    fill: false,
    tension: 0,
    clip: 0,
    order
  };
}

const datasets = [
  {
    data: toXY(blueObjs),
    pointStyle: marker(3.3, 2.6, C_BLUE, null),
    pointRadius: 3,
    order: 0
  },
  {
    data: toXY(grayObjs),
    pointStyle: marker(2.8, 2.2, null, C_GRAY),
    pointRadius: 3,
    order: 1
  },
  {
    data: toXY(darkDots),
    pointStyle: marker(2.6, 2.3, C_DARK, null),
    pointRadius: 3,
    order: 2
  },
  curve(darkMain, C_DARK, 3),
  ...darkLoops.map(p => curve(p, C_DARK, 3)),
  curve(orangeMain, C_ORANGE, 4),
  curve(yellowLeft, C_YELLOW, 5),
  curve(yellowLower, C_YELLOW, 5),
  curve(yellowMain, C_YELLOW, 5),
  ...yellowBits.map(p => curve(p, C_YELLOW, 5)),
  curve(greenUpper, C_GREEN, 6),
  curve(greenLower, C_GREEN, 6),
  ...greenBits.map(p => curve(p, C_GREEN, 6))
];

// =======================
// FRAME, TICKS, TITLES
// =======================
const minus = v => String(v).replace('-', '\u2212');

function drawRich(ctx, parts, size) {
  const fonts = parts.map(([, it]) => (it ? 'italic ' : '') + size + 'px "Liberation Serif", "DejaVu Serif", serif');
  const widths = parts.map(([t], i) => { ctx.font = fonts[i]; return ctx.measureText(t).width; });
  const total = widths.reduce((a, b) => a + b, 0);
  let x = -total / 2;
  parts.forEach(([t], i) => {
    ctx.font = fonts[i];
    ctx.fillText(t, x, 0);
    x += widths[i];
  });
}

function stretchedText(ctx, text, x, y) {
  ctx.save();
  ctx.translate(x, y);
  ctx.scale(STRETCH, 1);
  ctx.fillText(text, 0, 0);
  ctx.restore();
}

const framePlugin = {
  id: 'frame',
  afterDatasetsDraw(chart) {
    const { ctx, chartArea: a, scales: { x, y } } = chart;
    ctx.save();

    // contour level tags
    ctx.font = '12px "DejaVu Sans", sans-serif';
    ctx.textAlign = 'center';
    ctx.textBaseline = 'middle';
    levelTags.forEach(t => {
      ctx.save();
      ctx.translate(x.getPixelForValue(t.l), y.getPixelForValue(t.b));
      ctx.rotate(t.angle * Math.PI / 180);
      ctx.scale(STRETCH, 1);
      ctx.fillStyle = t.color;
      ctx.fillText(t.text, 0, 0);
      ctx.restore();
    });

    // inward ticks on all four sides
    ctx.strokeStyle = '#333';
    ctx.lineWidth = 1;
    ctx.beginPath();
    for (let v = lRange[0]; v <= lRange[1] + 1e-6; v += lMinorStep) {
      const px = Math.round(x.getPixelForValue(v)) + 0.5;
      const len = lTicks.includes(v) ? 5 : 2.5;
      ctx.moveTo(px, a.bottom); ctx.lineTo(px, a.bottom - len);
      ctx.moveTo(px, a.top); ctx.lineTo(px, a.top + len);
    }
    bTicks.forEach(v => {
      const py = Math.round(y.getPixelForValue(v)) + 0.5;
      ctx.moveTo(a.left, py); ctx.lineTo(a.left + 5, py);
      ctx.moveTo(a.right, py); ctx.lineTo(a.right - 5, py);
    });
    ctx.stroke();

    // frame
    ctx.strokeStyle = '#2b2b2b';
    ctx.lineWidth = 1.3;
    ctx.strokeRect(a.left, a.top, a.right - a.left, a.bottom - a.top);

    // tick labels
    ctx.fillStyle = '#1a1a1a';
    ctx.font = '12px "DejaVu Sans", sans-serif';
    ctx.textBaseline = 'middle';
    ctx.textAlign = 'center';
    lTicks.forEach(v => stretchedText(ctx, minus(v), x.getPixelForValue(v), a.bottom + 10));
    ctx.textAlign = 'right';
    bTicks.forEach(v => stretchedText(ctx, minus(v), a.left - 5, y.getPixelForValue(v)));
    ctx.restore();
  },
  afterDraw(chart) {
    const { ctx, chartArea: a } = chart;
    ctx.save();
    ctx.fillStyle = '#111';
    ctx.textBaseline = 'alphabetic';
    ctx.translate((a.left + a.right) / 2, 431);
    ctx.scale(STRETCH, 1);
    drawRich(ctx, [['Galactic longitude ', false], ['l', true], [' [deg]', false]], 22);
    ctx.restore();

    ctx.save();
    ctx.fillStyle = '#111';
    ctx.textBaseline = 'alphabetic';
    ctx.translate(29, (a.top + a.bottom) / 2);
    ctx.rotate(-Math.PI / 2);
    ctx.scale(1.02, STRETCH);
    drawRich(ctx, [['Galactic latitude ', false], ['b', true], [' [deg]', false]], 22);
    ctx.restore();
  }
};

// =======================
// CHART
// =======================
new Chart(document.getElementById('mapa'), {
  type: 'scatter',
  data: { datasets },
  options: {
    responsive: false,
    animation: false,
    events: [],
    layout: { padding: { top: 2, right: 4, left: 0, bottom: 0 } },
    plugins: {
      legend: { display: false },
      tooltip: { enabled: false }
    },
    scales: {
      x: {
        type: 'linear',
        min: lRange[0],
        max: lRange[1],
        reverse: true,
        grid: { display: false, drawTicks: false },
        border: { display: false },
        ticks: { display: false },
        afterBuildTicks: s => { s.ticks = lTicks.map(v => ({ value: v })); },
        afterFit: s => { s.height = 45; s.paddingLeft = 0; s.paddingRight = 0; }
      },
      y: {
        type: 'linear',
        min: bRange[0],
        max: bRange[1],
        grid: { display: false, drawTicks: false },
        border: { display: false },
        ticks: { display: false },
        afterBuildTicks: s => { s.ticks = bTicks.map(v => ({ value: v })); },
        afterFit: s => { s.width = 76; s.paddingTop = 0; s.paddingBottom = 0; }
      }
    }
  },
  plugins: [framePlugin]
});
</script>
</body>
</html>
